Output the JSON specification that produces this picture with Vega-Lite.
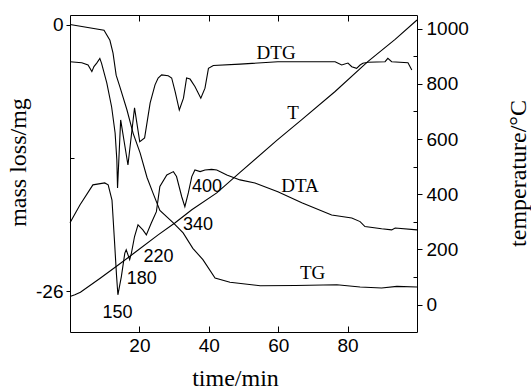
{
  "$schema": "https://vega.github.io/schema/vega-lite/v6.json",
  "width": 347,
  "height": 317,
  "autosize": {"type": "none"},
  "padding": {"left": 70, "top": 15, "right": 114, "bottom": 57},
  "background": "white",
  "config": {
    "view": {"stroke": "black", "strokeWidth": 1},
    "axis": {
      "domain": false, "grid": false, "tickColor": "black", "tickWidth": 1,
      "labelColor": "black", "labelFont": "Liberation Sans", "labelFontSize": 19,
      "titleFont": "Liberation Serif", "titleFontSize": 24, "titleFontWeight": "normal", "titleColor": "black"
    },
    "line": {"color": "black", "strokeWidth": 1.1}
  },
  "datasets": {
    "tg": [
      {"t": 0, "m": 0}, {"t": 9.8, "m": -0.55}, {"t": 11.5, "m": -1.53}, {"t": 12.4, "m": -2.79},
      {"t": 13.3, "m": -4.93}, {"t": 14.4, "m": -6.1}, {"t": 16.4, "m": -8.3}, {"t": 18.2, "m": -10.6},
      {"t": 20.2, "m": -12.5}, {"t": 22.2, "m": -14.9}, {"t": 23.9, "m": -16.4}, {"t": 25.9, "m": -18.1},
      {"t": 29.7, "m": -19.3}, {"t": 32.6, "m": -20.3}, {"t": 35.4, "m": -21.8}, {"t": 38.3, "m": -22.9},
      {"t": 41.8, "m": -24.7}, {"t": 46.1, "m": -25.1}, {"t": 54.8, "m": -25.44}, {"t": 65, "m": -25.42},
      {"t": 76.9, "m": -25.35}, {"t": 83.6, "m": -25.57}, {"t": 89.8, "m": -25.67}, {"t": 94.2, "m": -25.51},
      {"t": 100, "m": -25.57}
    ],
    "curves": [
      {"s": "T", "t": 0, "v": 30}, {"s": "T", "t": 1.4, "v": 36}, {"s": "T", "t": 3, "v": 45},
      {"s": "T", "t": 8.7, "v": 96}, {"s": "T", "t": 13.7, "v": 142}, {"s": "T", "t": 18.6, "v": 188},
      {"s": "T", "t": 25.4, "v": 253}, {"s": "T", "t": 30.3, "v": 297}, {"s": "T", "t": 35.1, "v": 344},
      {"s": "T", "t": 42.3, "v": 405}, {"s": "T", "t": 49, "v": 479}, {"s": "T", "t": 59.6, "v": 595},
      {"s": "T", "t": 66.8, "v": 670}, {"s": "T", "t": 76.4, "v": 772}, {"s": "T", "t": 85.9, "v": 881},
      {"s": "T", "t": 93.7, "v": 961}, {"s": "T", "t": 100, "v": 1031},

      {"s": "DTG", "t": 0, "v": 880}, {"s": "DTG", "t": 3.4, "v": 876}, {"s": "DTG", "t": 5.2, "v": 868},
      {"s": "DTG", "t": 6.3, "v": 844}, {"s": "DTG", "t": 6.9, "v": 862}, {"s": "DTG", "t": 7.7, "v": 875},
      {"s": "DTG", "t": 8.6, "v": 892}, {"s": "DTG", "t": 9.1, "v": 874}, {"s": "DTG", "t": 10.6, "v": 803},
      {"s": "DTG", "t": 12.0, "v": 716}, {"s": "DTG", "t": 13.0, "v": 622}, {"s": "DTG", "t": 13.5, "v": 524},
      {"s": "DTG", "t": 13.7, "v": 423}, {"s": "DTG", "t": 14.6, "v": 669}, {"s": "DTG", "t": 16.7, "v": 506},
      {"s": "DTG", "t": 18.6, "v": 713}, {"s": "DTG", "t": 20.1, "v": 590}, {"s": "DTG", "t": 21.5, "v": 604},
      {"s": "DTG", "t": 23.1, "v": 731}, {"s": "DTG", "t": 24.5, "v": 796}, {"s": "DTG", "t": 25.4, "v": 821},
      {"s": "DTG", "t": 26.4, "v": 832}, {"s": "DTG", "t": 28.3, "v": 829}, {"s": "DTG", "t": 29.3, "v": 821},
      {"s": "DTG", "t": 30.3, "v": 772}, {"s": "DTG", "t": 31.5, "v": 705}, {"s": "DTG", "t": 32.7, "v": 748},
      {"s": "DTG", "t": 33.6, "v": 821}, {"s": "DTG", "t": 34.6, "v": 817}, {"s": "DTG", "t": 36.0, "v": 790},
      {"s": "DTG", "t": 37.7, "v": 748}, {"s": "DTG", "t": 38.9, "v": 784}, {"s": "DTG", "t": 39.9, "v": 856},
      {"s": "DTG", "t": 41.3, "v": 866}, {"s": "DTG", "t": 49.0, "v": 871}, {"s": "DTG", "t": 59.9, "v": 880},
      {"s": "DTG", "t": 76.4, "v": 880}, {"s": "DTG", "t": 78.3, "v": 868}, {"s": "DTG", "t": 80.1, "v": 875},
      {"s": "DTG", "t": 81.2, "v": 862}, {"s": "DTG", "t": 82.6, "v": 856}, {"s": "DTG", "t": 83.6, "v": 868},
      {"s": "DTG", "t": 84.4, "v": 874}, {"s": "DTG", "t": 85.9, "v": 878}, {"s": "DTG", "t": 90.8, "v": 880},
      {"s": "DTG", "t": 91.6, "v": 892}, {"s": "DTG", "t": 92.7, "v": 880}, {"s": "DTG", "t": 97.4, "v": 876},
      {"s": "DTG", "t": 98.5, "v": 850},

      {"s": "DTA", "t": 0, "v": 297}, {"s": "DTA", "t": 2.9, "v": 362}, {"s": "DTA", "t": 6.6, "v": 434},
      {"s": "DTA", "t": 10.0, "v": 441}, {"s": "DTA", "t": 11.0, "v": 434}, {"s": "DTA", "t": 12.1, "v": 379},
      {"s": "DTA", "t": 12.8, "v": 235}, {"s": "DTA", "t": 13.4, "v": 108}, {"s": "DTA", "t": 13.8, "v": 36},
      {"s": "DTA", "t": 14.8, "v": 102}, {"s": "DTA", "t": 15.8, "v": 187}, {"s": "DTA", "t": 16.2, "v": 199},
      {"s": "DTA", "t": 17.2, "v": 163}, {"s": "DTA", "t": 17.7, "v": 187}, {"s": "DTA", "t": 18.6, "v": 247},
      {"s": "DTA", "t": 19.6, "v": 289}, {"s": "DTA", "t": 21.0, "v": 271}, {"s": "DTA", "t": 22.0, "v": 253},
      {"s": "DTA", "t": 23.4, "v": 295}, {"s": "DTA", "t": 24.9, "v": 337}, {"s": "DTA", "t": 25.9, "v": 428},
      {"s": "DTA", "t": 27.9, "v": 470}, {"s": "DTA", "t": 29.8, "v": 482}, {"s": "DTA", "t": 30.7, "v": 464},
      {"s": "DTA", "t": 32.2, "v": 391}, {"s": "DTA", "t": 33.1, "v": 355}, {"s": "DTA", "t": 34.1, "v": 405},
      {"s": "DTA", "t": 35.1, "v": 464}, {"s": "DTA", "t": 36.0, "v": 488}, {"s": "DTA", "t": 37.5, "v": 482},
      {"s": "DTA", "t": 38.9, "v": 488}, {"s": "DTA", "t": 40.8, "v": 490}, {"s": "DTA", "t": 42.3, "v": 488},
      {"s": "DTA", "t": 45.2, "v": 470}, {"s": "DTA", "t": 49.0, "v": 452}, {"s": "DTA", "t": 53.3, "v": 441},
      {"s": "DTA", "t": 59.9, "v": 409}, {"s": "DTA", "t": 66.8, "v": 369}, {"s": "DTA", "t": 75.4, "v": 325},
      {"s": "DTA", "t": 81.2, "v": 314}, {"s": "DTA", "t": 83.6, "v": 301}, {"s": "DTA", "t": 85.0, "v": 283},
      {"s": "DTA", "t": 89.8, "v": 275}, {"s": "DTA", "t": 92.7, "v": 271}, {"s": "DTA", "t": 93.7, "v": 278},
      {"s": "DTA", "t": 100, "v": 271}
    ],
    "names": [
      {"label": "DTG", "t": 59.4, "v": 889},
      {"label": "T", "t": 64.3, "v": 672},
      {"label": "DTA", "t": 66.3, "v": 409},
      {"label": "TG", "t": 69.9, "v": 93}
    ],
    "temps": [
      {"label": "400", "t": 39.5, "v": 408},
      {"label": "340", "t": 36.9, "v": 271},
      {"label": "220", "t": 25.5, "v": 155},
      {"label": "180", "t": 20.7, "v": 76},
      {"label": "150", "t": 13.7, "v": -47}
    ]
  },
  "layer": [
    {
      "data": {"name": "tg"},
      "mark": {"type": "line"},
      "encoding": {
        "x": {"field": "t", "type": "quantitative",
          "scale": {"domain": [0, 100], "nice": false, "zero": false},
          "axis": {"orient": "bottom", "values": [20, 40, 60, 80], "tickSize": -6, "labelPadding": 10,
            "labelFont": "Liberation Sans", "labelFontSize": 19,
            "title": "time/min", "titleFont": "Liberation Serif", "titleFontSize": 24, "titleFontWeight": "normal",
            "titleX": 165, "titleY": 53, "titleBaseline": "alphabetic", "titleAlign": "center"}},
        "y": {"field": "m", "type": "quantitative",
          "scale": {"domain": [-29.95, 0.93], "nice": false, "zero": false},
          "axis": {"orient": "left", "values": [0, -26], "tickSize": 4, "labelPadding": 3,
            "labelExpr": "'' + datum.value", "labelFont": "Liberation Sans", "labelFontSize": 19,
            "title": "mass loss/mg", "titleFont": "Liberation Serif", "titleFontSize": 24, "titleFontWeight": "normal",
            "titleAngle": -90, "titleX": -45, "titleY": 147,
            "titleBaseline": "alphabetic", "titleAlign": "center"}}
      }
    },
    {
      "data": {"name": "tg"},
      "mark": {"type": "line", "opacity": 0},
      "encoding": {
        "x": {"field": "t", "type": "quantitative",
          "scale": {"domain": [0, 100], "nice": false, "zero": false},
          "axis": {"orient": "top", "values": [20, 40, 60, 80], "tickSize": -6, "labels": false, "title": null}},
        "y": {"field": "m", "type": "quantitative",
          "scale": {"domain": [-29.95, 0.93], "nice": false, "zero": false},
          "axis": {"orient": "left", "values": [-13], "tickSize": -4, "labels": false, "title": null}}
      }
    },
    {
      "data": {"name": "curves"},
      "mark": {"type": "line"},
      "encoding": {
        "x": {"field": "t", "type": "quantitative",
          "scale": {"domain": [0, 100], "nice": false, "zero": false}, "axis": null},
        "y": {"field": "v", "type": "quantitative",
          "scale": {"domain": [-98.7, 1049], "nice": false, "zero": false},
          "axis": {"orient": "right", "values": [0, 200, 400, 600, 800, 1000], "tickSize": 5, "labelPadding": 4,
            "labelExpr": "'' + datum.value", "labelFont": "Liberation Sans", "labelFontSize": 19,
            "title": "temperature/°C", "titleFont": "Liberation Serif", "titleFontSize": 24, "titleFontWeight": "normal",
            "titleAngle": -90, "titleX": 108, "titleY": 158,
            "titleBaseline": "alphabetic", "titleAlign": "center"}},
        "detail": {"field": "s", "type": "nominal"}
      }
    },
    {
      "data": {"name": "curves"},
      "mark": {"type": "line", "opacity": 0},
      "encoding": {
        "x": {"field": "t", "type": "quantitative",
          "scale": {"domain": [0, 100], "nice": false, "zero": false}, "axis": null},
        "y": {"field": "v", "type": "quantitative",
          "scale": {"domain": [-98.7, 1049], "nice": false, "zero": false},
          "axis": {"orient": "right", "values": [100, 300, 500, 700, 900], "tickSize": -4, "labels": false, "title": null}},
        "detail": {"field": "s", "type": "nominal"}
      }
    },
    {
      "data": {"name": "names"},
      "mark": {"type": "text", "font": "Liberation Serif", "fontSize": 19, "align": "center", "baseline": "alphabetic", "color": "black"},
      "encoding": {
        "x": {"field": "t", "type": "quantitative",
          "scale": {"domain": [0, 100], "nice": false, "zero": false}, "axis": null},
        "y": {"field": "v", "type": "quantitative",
          "scale": {"domain": [-98.7, 1049], "nice": false, "zero": false}, "axis": null},
        "text": {"field": "label"}
      }
    },
    {
      "data": {"name": "temps"},
      "mark": {"type": "text", "font": "Liberation Sans", "fontSize": 18, "align": "center", "baseline": "alphabetic", "color": "black"},
      "encoding": {
        "x": {"field": "t", "type": "quantitative",
          "scale": {"domain": [0, 100], "nice": false, "zero": false}, "axis": null},
        "y": {"field": "v", "type": "quantitative",
          "scale": {"domain": [-98.7, 1049], "nice": false, "zero": false}, "axis": null},
        "text": {"field": "label"}
      }
    }
  ],
  "resolve": {
    "scale": {"x": "independent", "y": "independent"},
    "axis": {"x": "independent", "y": "independent"}
  }
}
